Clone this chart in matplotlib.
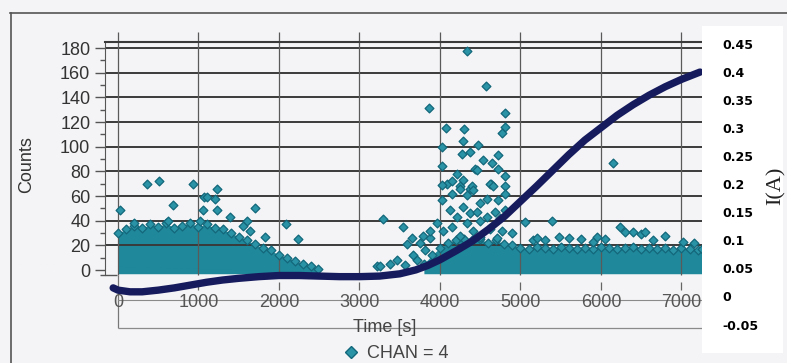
import numpy as np
import matplotlib
matplotlib.use("Agg")
import matplotlib.pyplot as plt
from matplotlib.lines import Line2D
from matplotlib.patches import Rectangle

# ─── Data ─────────────────────────────────────────────────────────────────────
# dense counts band, first burst (upper edge of the packed points)
BAND1_T   = [0, 100, 200, 300, 400, 500, 600, 700, 800, 900, 1000, 1100, 1200,
             1300, 1400, 1500, 1600, 1700, 1800, 1900, 2000, 2100, 2200, 2300,
             2400, 2480]
BAND1_TOP = [30, 33, 36, 34, 37, 35, 38, 34, 36, 38, 35, 37, 34,
             33, 30, 27, 24, 21, 18, 16, 12, 10, 7, 5, 3, 1]

# dense counts band, second burst
BAND2_T   = [3800, 3900, 4000, 4100, 4200, 4300, 4400, 4500, 4600, 4700, 4800,
             4900, 5000, 5100, 5200, 5300, 5400, 5500, 5600, 5700, 5800, 5900,
             6000, 6100, 6200, 6300, 6400, 6500, 6600, 6700, 6800, 6900, 7000,
             7100, 7200, 7250]
BAND2_TOP = [5, 12, 18, 22, 24, 25, 24, 25, 22, 24, 21,
             20, 18, 17, 19, 18, 17, 19, 18, 17, 18, 17,
             19, 18, 17, 18, 19, 17, 18, 17, 18, 16, 18,
             17, 16, 17]

# individual points standing out from the bands
PTS_T = [30, 360, 515, 680, 930, 1070, 1055, 1100, 1200, 1225, 1230, 1390,
         1600, 1700, 1640, 1820, 2090, 2235, 200, 620, 1020, 1550,
         3213, 3255, 3296, 3380, 3470, 3545, 3565, 3590, 3647, 3660, 3710,
         3752, 3793, 3814, 3876,
         4339, 4571, 3867, 4807, 4075, 4298, 4807, 4766, 4282, 4021, 4476,
         4373, 4270, 4724, 4538, 4642, 4021, 4435, 4724, 4207, 4807, 4455,
         4290, 4083, 4630, 4021, 4145, 4248, 4373, 4393, 4807, 4621,
         4021, 4145, 4248, 4331, 4414, 4497, 4580, 4662, 4724, 4807,
         4124, 4207, 4290, 4373, 4455, 4497, 4580, 4683, 4745, 4807,
         3959, 4041, 3876, 4145, 4331, 4414, 4621, 4766, 4890, 4248, 4497, 4704,
         5056, 5387, 5150, 5200, 5300, 5480, 5600, 5750, 5900, 5950, 6050,
         6153, 6236, 6300, 6400, 6500, 6550, 6650, 6795, 7023, 7150]
PTS_C = [49, 70, 72, 53, 70, 59, 49, 59, 58, 66, 49, 43,
         40, 50, 32, 27, 37, 25, 38, 40, 40, 36,
         3, 3, 41, 5, 8, 35, 4, 21, 26, 12, 8,
         22, 28, 16, 26,
         178, 149, 131, 127, 115, 114, 116, 111, 105, 100, 101,
         96, 94, 93, 89, 87, 84, 82, 82, 78, 76, 81,
         73, 70, 70, 69, 72, 68, 66, 68, 68, 70,
         57, 62, 66, 61, 65, 54, 58, 68, 57, 62,
         49, 43, 51, 46, 47, 40, 43, 47, 42, 49,
         38, 32, 32, 35, 38, 32, 33, 32, 30, 28, 27, 26,
         39, 40, 24, 26, 24, 27, 26, 25, 23, 27, 25,
         87, 35, 31, 31, 29, 31, 24, 28, 23, 22]

# beam current I(A)
CUR_T = [-60, 0, 150, 300, 500, 700, 900, 1100, 1300, 1500, 1750, 2000, 2250,
         2500, 2750, 3000, 3250, 3500, 3700, 3850, 4000, 4200, 4400, 4600,
         4800, 5000, 5200, 5400, 5600, 5800, 6000, 6200, 6400, 6600, 6800,
         7000, 7230]
CUR_I = [0.018, 0.014, 0.011, 0.011, 0.014, 0.018, 0.023, 0.028, 0.032, 0.035,
         0.038, 0.040, 0.040, 0.039, 0.038, 0.038, 0.039, 0.043, 0.050, 0.058,
         0.068, 0.084, 0.101, 0.122, 0.145, 0.172, 0.199, 0.227, 0.255, 0.281,
         0.303, 0.325, 0.344, 0.361, 0.376, 0.389, 0.402]

X_TICKS = [0, 1000, 2000, 3000, 4000, 5000, 6000, 7000]
C_TICKS = [0, 20, 40, 60, 80, 100, 120, 140, 160, 180]
C_GRID  = [20, 40, 60, 80, 100, 120, 140, 160, 180]
I_TICKS = [0.45, 0.4, 0.35, 0.3, 0.25, 0.2, 0.15, 0.1, 0.05, 0, -0.05]

# ─── Style ────────────────────────────────────────────────────────────────────
W, H = 787, 363
BG = "#f4f4f6"
TEAL_FACE = "#2a93a6"
TEAL_EDGE = "#13677a"
BAND_COL = "#1f889a"
NAVY = "#161b5e"
GRID_DARK = "#3a3a3a"
plt.rcParams["font.family"] = ["Liberation Sans", "DejaVu Sans"]


def fx(px):
    return px / W


def fy(py):
    return 1 - py / H


fig = plt.figure(figsize=(W / 100, H / 100), dpi=100, facecolor=BG)

# outer frame
fig.add_artist(Line2D([fx(10), fx(787)], [fy(13), fy(13)], color="#555555", lw=1.2))
fig.add_artist(Line2D([fx(11), fx(11)], [fy(13), fy(363)], color="#555555", lw=1.2))

ax = fig.add_axes([fx(105), fy(300), fx(702) - fx(105), fy(42) - fy(300)])
ax.set_facecolor("none")
ax.set_xlim(-161.5, 7255)
ax.set_ylim(-24.3, 184.9)

# counts: packed bands, then the scattered points
ax.fill_between(BAND1_T, -3, BAND1_TOP, color=BAND_COL, lw=0, zorder=1)
ax.fill_between(BAND2_T, -3, BAND2_TOP, color=BAND_COL, lw=0, zorder=1)

# grid
ax.hlines(C_GRID, -161.5, 7255, color=GRID_DARK, lw=1.4, zorder=2)
ax.vlines(X_TICKS, -4, 193, color="#5a5a5a", lw=0.9, zorder=2, clip_on=False)
ax.vlines(X_TICKS[0], -47, -4, color="#777777", lw=0.9, clip_on=False)
ax.hlines(-47, 0, 7255, color="#8a8a8a", lw=0.9, clip_on=False)
ax.vlines(X_TICKS[1:], -16, -10, color="#666666", lw=0.9, clip_on=False)

ax.scatter(BAND1_T + BAND2_T, BAND1_TOP + BAND2_TOP, marker="D", s=20,
           facecolor=TEAL_FACE, edgecolor=TEAL_EDGE, lw=0.9, zorder=3)
ax.scatter(PTS_T, PTS_C, marker="D", s=20, facecolor=TEAL_FACE,
           edgecolor=TEAL_EDGE, lw=0.9, zorder=3)

# spines and ticks
ax.spines["right"].set_visible(False)
ax.spines["top"].set_color(GRID_DARK)
ax.spines["top"].set_linewidth(1.5)
ax.spines["left"].set_bounds(-4, 184.9)
ax.spines["left"].set_color("#555555")
ax.spines["bottom"].set_bounds(0, 7255)
ax.spines["bottom"].set_color("#8a8a8a")
ax.hlines(-4, -225, -12, color="#555555", lw=1.0, clip_on=False)

ax.set_yticks(C_TICKS)
ax.set_yticks(np.arange(0, 181, 10), minor=True)
ax.tick_params(axis="y", which="major", direction="out", length=7, width=1,
               pad=3.6, labelsize=13, labelcolor="#333333", color="#555555")
ax.tick_params(axis="y", which="minor", direction="out", length=3.6, width=1,
               color="#555555")
ax.set_xticks([])
for t in X_TICKS:
    ax.text(t, -26, str(t), ha="center", va="center", fontsize=13,
            color="#555555", clip_on=False)

# beam current on its own scale
ax2 = ax.twinx()
ax2.set_ylim(-0.00356, 0.4555)
ax2.plot(CUR_T, CUR_I, color=NAVY, lw=5.3, solid_capstyle="round",
         clip_on=False, zorder=5)
ax2.set_yticks([])
for s in ax2.spines.values():
    s.set_visible(False)

# label box for the current axis
fig.add_artist(Rectangle((fx(702), fy(353)), fx(783) - fx(702), fy(26) - fy(353),
                         transform=fig.transFigure, facecolor="white",
                         edgecolor="none", zorder=1))
for v in I_TICKS:
    fig.text(1.0335, v, f"{v:g}", transform=ax2.get_yaxis_transform(),
             ha="left", va="center", fontsize=9, fontweight="bold",
             family="DejaVu Sans", color="black", zorder=3)
fig.text(fx(776), fy(186), "I(A)", rotation=90, ha="center", va="center",
         fontsize=16, family="Liberation Serif", color="#222222", zorder=3)

fig.text(fx(27), fy(165), "Counts", rotation=90, ha="center", va="center",
         fontsize=13, color="#333333")
fig.text(fx(385), fy(328), "Time [s]", ha="center", va="center",
         fontsize=13, color="#444444")

leg_handle = Line2D([], [], marker="D", ls="none", markersize=6,
                    markerfacecolor=TEAL_FACE, markeredgecolor=TEAL_EDGE)
fig.legend([leg_handle], ["CHAN = 4"], loc="center",
           bbox_to_anchor=(fx(396), fy(354)), frameon=False, fontsize=13,
           handlelength=0.8, handletextpad=0.5, labelcolor="#444444",
           borderpad=0, borderaxespad=0)

fig.savefig("out.png", dpi=100, facecolor=BG)
